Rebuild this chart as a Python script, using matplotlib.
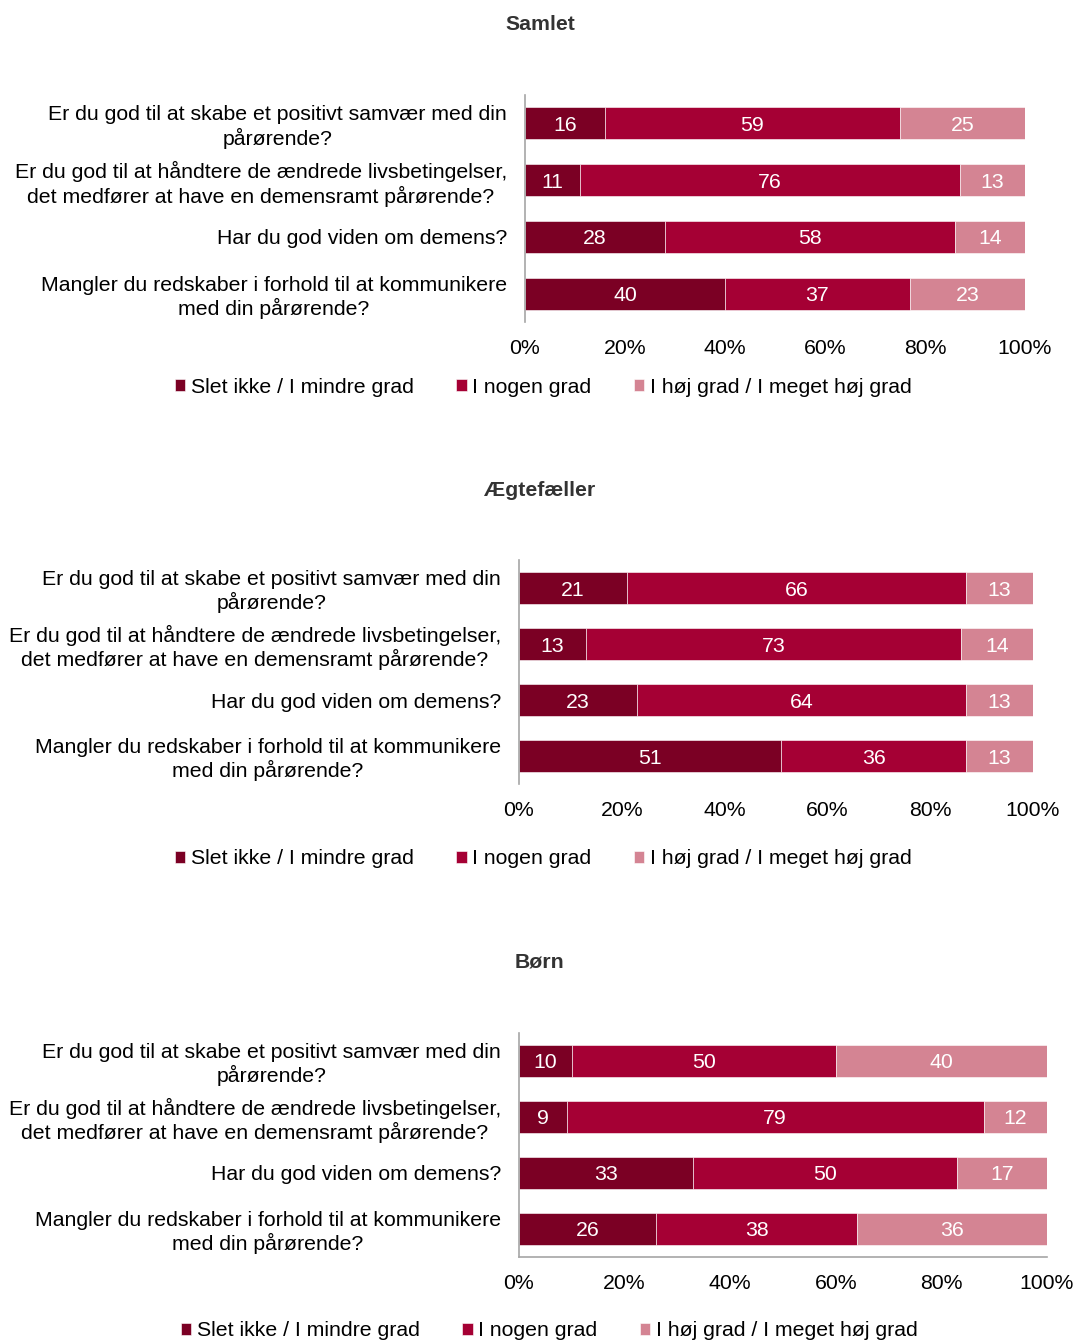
import matplotlib
matplotlib.use("Agg")
import matplotlib.pyplot as plt

plt.rcParams['font.family'] = ['Liberation Sans', 'DejaVu Sans']

questions = [
    "Er du god til at skabe et positivt samvær med din\npårørende?",
    "Er du god til at håndtere de ændrede livsbetingelser,\ndet medfører at have en demensramt pårørende?",
    "Har du god viden om demens?",
    "Mangler du redskaber i forhold til at kommunikere\nmed din pårørende?",
]
series_names = ["Slet ikke / I mindre grad", "I nogen grad", "I høj grad / I meget høj grad"]
colors = ["#7b0024", "#a50034", "#d48493"]

samlet_lav = [16, 11, 28, 40]
samlet_nogen = [59, 76, 58, 37]
samlet_hoj = [25, 13, 14, 23]

aegte_lav = [21, 13, 23, 51]
aegte_nogen = [66, 73, 64, 36]
aegte_hoj = [13, 14, 13, 13]

born_lav = [10, 9, 33, 26]
born_nogen = [50, 79, 50, 38]
born_hoj = [40, 12, 17, 36]

panels = [
    ("Samlet", [samlet_lav, samlet_nogen, samlet_hoj]),
    ("Ægtefæller", [aegte_lav, aegte_nogen, aegte_hoj]),
    ("Børn", [born_lav, born_nogen, born_hoj]),
]

W, H = 1077, 1342
fig = plt.figure(figsize=(W / 100, H / 100), dpi=100)

# pixel boxes: left, right, top, bottom of plot area; title y; legend x, y; bottom spine
boxes = [
    (525, 1025, 95, 322, 25, 543, 387, False),
    (519, 1033, 560, 784, 491, 543, 859, False),
    (519, 1047, 1033, 1257, 962, 549, 1331, True),
]

fs = 15.3
for (title, data), (l, r, t, b, ty, lx, ly, bottom_spine) in zip(panels, boxes):
    ax = fig.add_axes([l / W, 1 - b / H, (r - l) / W, (b - t) / H])
    ypos = list(range(len(questions)))
    left = [0] * len(questions)
    for vals, name, c in zip(data, series_names, colors):
        bars = ax.barh(ypos, vals, left=left, height=0.56, color=c,
                       edgecolor="white", linewidth=0.4, label=name)
        for y, x0, v in zip(ypos, left, vals):
            ax.text(x0 + v / 2, y, str(v), ha="center", va="center_baseline",
                    color="white", fontsize=fs)
        left = [a + v for a, v in zip(left, vals)]
    ax.set_xlim(0, 100)
    ax.set_ylim(3.5, -0.5)
    ax.set_yticks(ypos)
    ax.set_yticklabels(questions, fontsize=fs)
    for lab in ax.get_yticklabels():
        lab.set_multialignment("center")
    ax.set_xticks([0, 20, 40, 60, 80, 100])
    ax.set_xticklabels([f"{v}%" for v in range(0, 101, 20)], fontsize=fs)
    ax.tick_params(axis="y", length=0, pad=13)
    ax.tick_params(axis="x", length=0, pad=12)
    for s in ["top", "right"]:
        ax.spines[s].set_visible(False)
    ax.spines["bottom"].set_visible(bottom_spine)
    ax.spines["bottom"].set_color("#a6a6a6")
    ax.spines["bottom"].set_linewidth(1.2)
    ax.spines["left"].set_color("#a6a6a6")
    ax.spines["left"].set_linewidth(1.2)

    fig.text(540 / W, 1 - ty / H, title, ha="center", va="center",
             fontsize=15.3, fontweight="bold", color="#333333")
    fig.legend(*ax.get_legend_handles_labels(), loc="center",
               bbox_to_anchor=(lx / W, 1 - ly / H), ncol=3, frameon=False,
               fontsize=fs, handlelength=0.5, handleheight=0.5,
               handletextpad=0.25, columnspacing=2.0, borderaxespad=0)

plt.savefig("out.png", dpi=100)
